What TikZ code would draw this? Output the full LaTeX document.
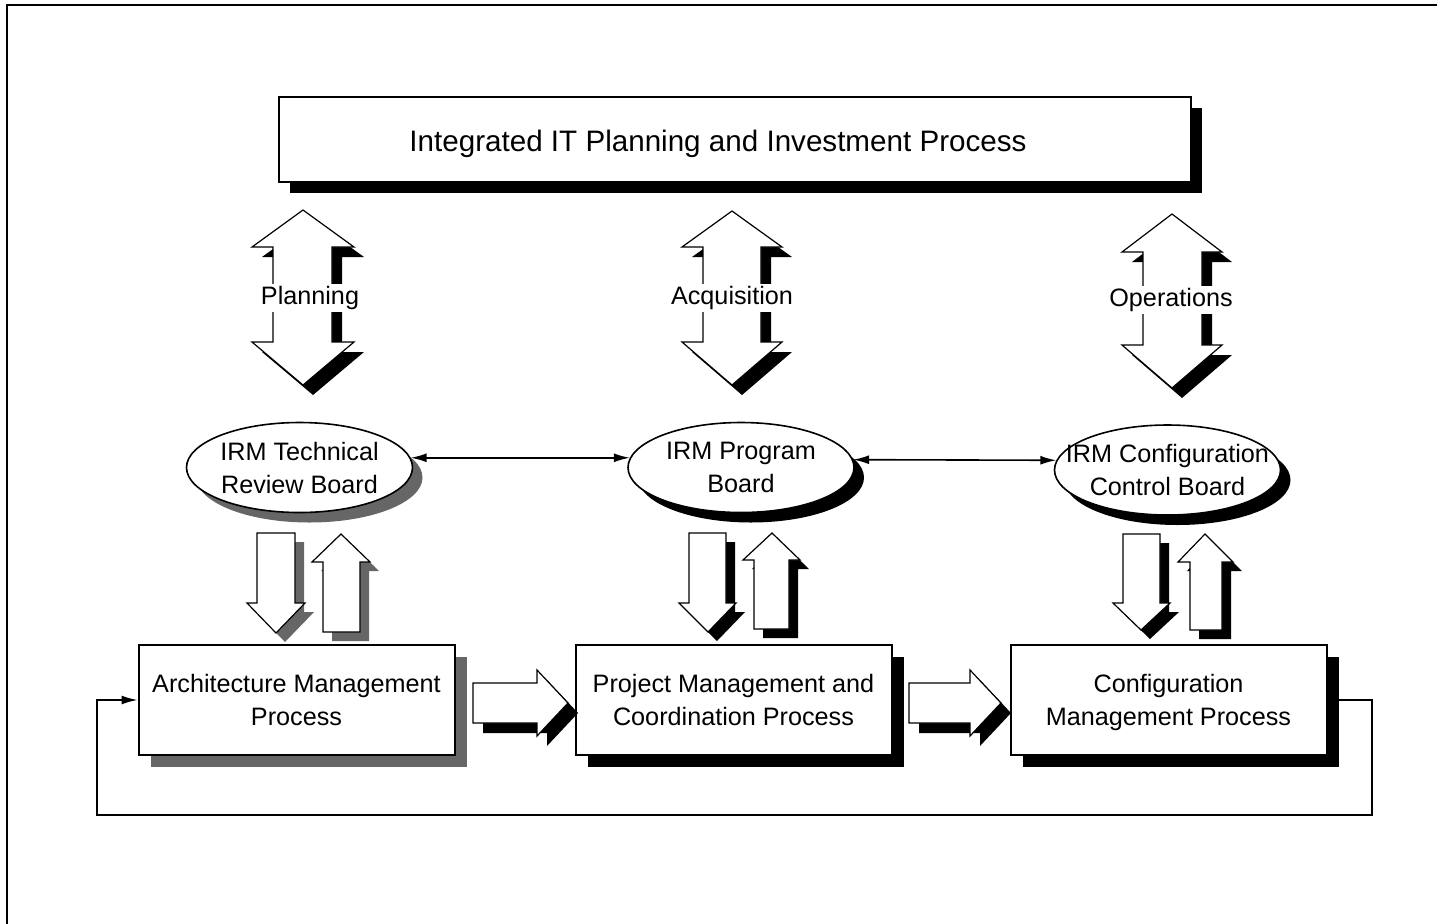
\documentclass[tikz,border=0pt]{standalone}
\usepackage{fontspec}
\setmainfont{Liberation Sans}
\usetikzlibrary{shapes.geometric,shadows,arrows.meta}

\tikzset{
  txt/.style={font=\fontsize{12.6}{16.5}\selectfont},
  shade/.style={drop shadow={shadow xshift=#1, shadow yshift=-#1, fill=black, opacity=1}},
  greyshade/.style={drop shadow={shadow xshift=#1, shadow yshift=-#1, fill=black!60, opacity=1}},
  proc/.style={draw, line width=1pt, fill=white, txt, align=center,
    minimum width=158pt, minimum height=55pt, text depth=-1pt},
  board/.style={ellipse, draw, line width=0.8pt, fill=white, txt, align=center,
    minimum width=113pt, minimum height=45pt, inner sep=-12pt},
  fat/.style={draw, line width=0.6pt, fill=white, line join=miter},
  lbl/.style={txt, fill=white, inner sep=1pt},
  link/.style={line width=0.8pt, >={Latex[length=8pt,width=4.5pt]}}
}

\begin{document}
\begin{tikzpicture}[x=0.5pt,y=-0.5pt]
  \useasboundingbox (0,0) rectangle (1437,923);
  \draw[line width=1pt] (7,930) -- (7,5) -- (1445,5);

  \node[proc, shade=5.5pt, minimum width=456pt, minimum height=42.5pt,
    text height=15pt, text depth=3pt,
    font=\fontsize{14.8}{18}\selectfont] (itip) at (735,139.5)
    {Integrated IT Planning and Investment Process\hspace*{17pt}};

  \path[fat, shade=5pt]
    (303,210) -- (354,247) -- (332,247) -- (332,342) -- (354,342) -- (303,385)
    -- (252,342) -- (273,342) -- (273,247) -- (252,247) -- cycle;
  \path[fat, shade=5pt]
    (732,211) -- (782,247) -- (761,247) -- (761,342) -- (782,342) -- (732,385)
    -- (682,342) -- (703,342) -- (703,247) -- (682,247) -- cycle;
  \path[fat, shade=5pt]
    (1172,214) -- (1222,252) -- (1202,252) -- (1202,345) -- (1222,345) -- (1172,388)
    -- (1122,345) -- (1143,345) -- (1143,252) -- (1122,252) -- cycle;
  \node[lbl] (plan) at (310,298) {Planning};
  \node[lbl] (acq) at (732,298) {Acquisition};
  \node[lbl] (ops) at (1171,300) {Operations};

  \node[board, greyshade=5pt] (trb) at (299.5,467.5) {IRM Technical\\Review Board};
  \node[board, shade=5pt] (pb) at (741,467.5) {IRM Program\\Board};
  \node[board, shade=5pt] (ccb) at (1167.5,470) {IRM Configuration\\Control Board};
  \draw[link, <->] (trb.5) -- (pb.175);
  \draw[link, <->] (pb.4) -- (ccb.175);

  \path[fat, greyshade=4.5pt]
    (257,533) -- (295,533) -- (295,603) -- (305,603) -- (276,633) -- (247,603) -- (257,603) -- cycle;
  \path[fat, greyshade=4.5pt]
    (341,534) -- (370,562) -- (360,562) -- (360,632) -- (323,632) -- (323,562) -- (312,562) -- cycle;
  \path[fat, shade=4.5pt]
    (689,533) -- (726,533) -- (726,603) -- (736,603) -- (708,632) -- (679,603) -- (689,603) -- cycle;
  \path[fat, shade=4.5pt]
    (772,533) -- (800,560) -- (789,560) -- (789,629) -- (754,629) -- (754,560) -- (743,560) -- cycle;
  \path[fat, shade=4.5pt]
    (1123,534) -- (1160,534) -- (1160,603) -- (1170,603) -- (1141,630) -- (1113,603) -- (1123,603) -- cycle;
  \path[fat, shade=4.5pt]
    (1205,534) -- (1233,562) -- (1222,562) -- (1222,630) -- (1190,630) -- (1190,562) -- (1178,562) -- cycle;

  \node[proc, greyshade=6pt] (amp) at (296.5,700) {Architecture Management\\Process};
  \node[proc, shade=6pt] (pmc) at (733.5,700) {Project Management and\\Coordination Process};
  \node[proc, shade=6pt] (cmp) at (1168.5,700) {Configuration\\Management Process};

  \path[fat, shade=5pt]
    (473,683) -- (537,683) -- (537,670) -- (568,703) -- (537,736) -- (537,723) -- (473,723) -- cycle;
  \path[fat, shade=5pt]
    (909,683) -- (970,683) -- (970,670) -- (1001,703) -- (970,736) -- (970,723) -- (909,723) -- cycle;

  \draw[link, ->] (cmp.east) -| (1372,815) -| (97,700) -- (amp.west);
\end{tikzpicture}
\end{document}
